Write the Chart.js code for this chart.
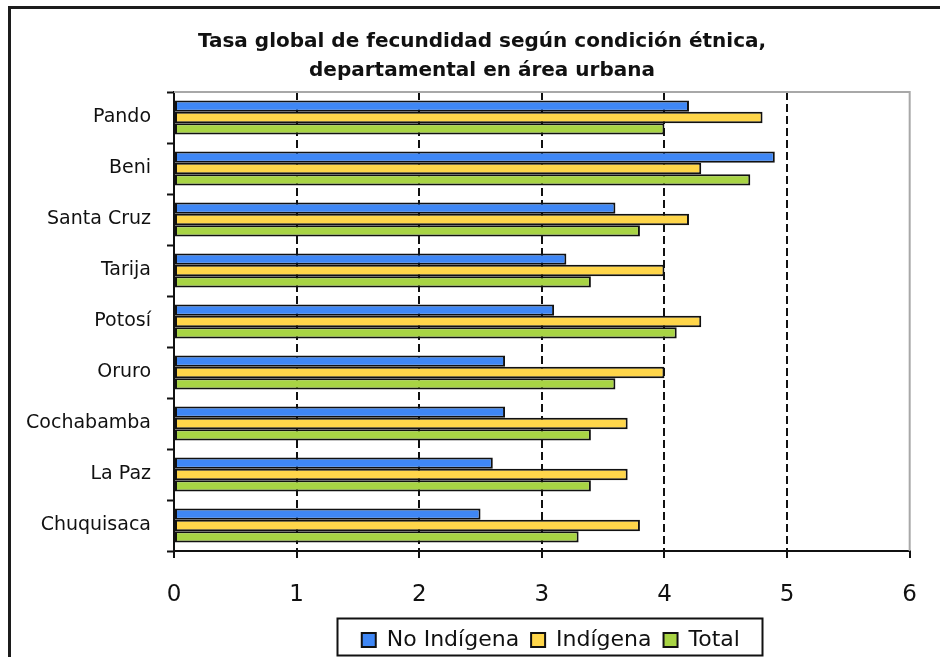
<!DOCTYPE html>
<html>
<head>
<meta charset="utf-8">
<script src="https://cdn.jsdelivr.net/npm/chart.js@4/dist/chart.umd.min.js"></script>
<style>
  html, body { margin: 0; padding: 0; background: #fff; overflow: hidden; }
  #wrap { width: 940px; height: 657px; position: relative; }
</style>
</head>
<body>
<div id="wrap"><canvas id="chart"></canvas></div>
<script>
// Departamentos (de arriba hacia abajo)
const departamentos = ['Pando', 'Beni', 'Santa Cruz', 'Tarija', 'Potosí', 'Oruro', 'Cochabamba', 'La Paz', 'Chuquisaca'];
// Tasa global de fecundidad por condición étnica
const noIndigena = [4.2, 4.9, 3.6, 3.2, 3.1, 2.7, 2.7, 2.6, 2.5];
const indigena   = [4.8, 4.3, 4.2, 4.0, 4.3, 4.0, 3.7, 3.7, 3.8];
const total      = [4.0, 4.7, 3.8, 3.4, 4.1, 3.6, 3.4, 3.4, 3.3];
const series = ['No Indígena', 'Indígena', 'Total'];
const xTicks = [0, 1, 2, 3, 4, 5, 6];
const titulo = ['Tasa global de fecundidad según condición étnica,', 'departamental en área urbana'];

const FONT = 'DejaVu Sans';
const INK = '#111111';
Chart.defaults.font.family = FONT;
Chart.defaults.color = INK;

// Marco exterior, borde gris del área de trazado y recuadro de la leyenda
const frames = {
  id: 'frames',
  afterLayout(chart) {
    // título centrado entre el margen interior y el borde derecho del gráfico
    if (chart.titleBlock) chart.titleBlock.left += 50;
    // leyenda ligeramente desplazada hacia la derecha
    if (chart.legend) { chart.legend.left += 9; chart.legend.right += 9; }
  },
  beforeDraw(chart) {
    const c = chart.ctx;
    c.save();
    c.strokeStyle = '#1c1c1c';
    c.lineWidth = 3;
    c.strokeRect(9.5, 7.5, chart.width + 40, chart.height + 40);
    c.restore();
  },
  beforeDatasetsDraw(chart) {
    const { ctx: c, chartArea: a } = chart;
    c.save();
    c.strokeStyle = '#a8a8a8';
    c.lineWidth = 2;
    c.beginPath();
    c.moveTo(a.left, a.top);
    c.lineTo(a.right, a.top);
    c.lineTo(a.right, a.bottom);
    c.stroke();
    c.restore();
  },
  afterDraw(chart) {
    const boxes = chart.legend && chart.legend.legendHitBoxes;
    if (!boxes || !boxes.length) return;
    let l = Infinity, r = -Infinity, t = Infinity, b = -Infinity;
    boxes.forEach(h => {
      l = Math.min(l, h.left); r = Math.max(r, h.left + h.width);
      t = Math.min(t, h.top);  b = Math.max(b, h.top + h.height);
    });
    const c = chart.ctx;
    c.save();
    c.strokeStyle = INK;
    c.lineWidth = 2;
    c.strokeRect(Math.round(l - 25) + 0.5, Math.round(t - 11) + 0.5, Math.round(r - l + 47), Math.round(b - t + 15));
    c.restore();
  }
};

const barStyle = { borderColor: INK, borderWidth: 2, borderSkipped: false };

new Chart(document.getElementById('chart'), {
  type: 'bar',
  data: {
    labels: departamentos,
    datasets: [
      { label: series[0], data: noIndigena, backgroundColor: '#3f87f5', ...barStyle },
      { label: series[1], data: indigena,   backgroundColor: '#ffd64a', ...barStyle },
      { label: series[2], data: total,      backgroundColor: '#a8d444', ...barStyle }
    ]
  },
  options: {
    indexAxis: 'y',
    responsive: true,
    maintainAspectRatio: false,
    animation: false,
    datasets: { bar: { categoryPercentage: 0.667, barPercentage: 1.0 } },
    layout: { padding: { left: 0, right: 26, top: 0, bottom: -4 } },
    scales: {
      x: {
        min: 0,
        max: 6,
        afterBuildTicks(s) { s.ticks = xTicks.map(v => ({ value: v })); },
        grid: {
          color: c => (c.tick && c.tick.value > 0 && c.tick.value < 6) ? INK : 'rgba(0,0,0,0)',
          lineWidth: 2,
          tickColor: INK,
          tickLength: 7,
          tickWidth: 2
        },
        border: { display: true, color: INK, width: 2, dash: [8, 4] },
        ticks: { color: INK, font: { family: FONT, size: 23 }, padding: 23 },
        afterFit(s) { s.height = 66; }
      },
      y: {
        offset: true,
        grid: {
          offset: true,
          drawOnChartArea: false,
          drawTicks: true,
          tickLength: 7,
          tickColor: INK,
          tickWidth: 2
        },
        border: { display: true, color: INK, width: 2 },
        ticks: { color: INK, font: { family: FONT, size: 19 }, padding: 16, autoSkip: false },
        afterFit(s) { s.width = 174; }
      }
    },
    plugins: {
      title: {
        display: true,
        text: titulo,
        color: INK,
        font: { family: FONT, size: 20, weight: 'bold', lineHeight: 1.45 },
        padding: { top: 27.5, bottom: 6.5 }
      },
      legend: {
        position: 'bottom',
        fullSize: false,
        labels: {
          color: INK,
          font: { family: FONT, size: 22 },
          boxWidth: 14,
          boxHeight: 14,
          padding: 12
        }
      },
      tooltip: { enabled: false }
    }
  },
  plugins: [frames]
});
</script>
</body>
</html>
